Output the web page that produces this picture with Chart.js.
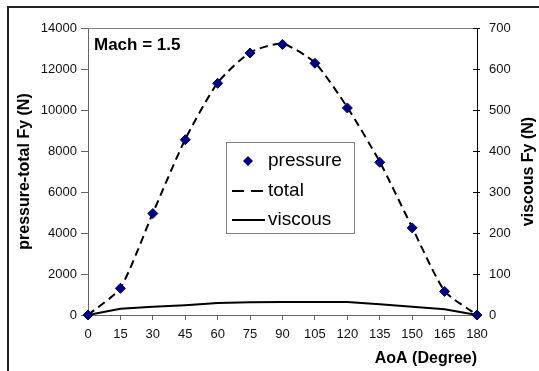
<!DOCTYPE html>
<html>
<head>
<meta charset="utf-8">
<script src="https://cdn.jsdelivr.net/npm/chart.js@4.4.0/dist/chart.umd.min.js"></script>
<style>
  html, body { margin: 0; padding: 0; background: #fff; }
  canvas { display: block; }
</style>
</head>
<body>
<canvas id="chart" width="539" height="371"></canvas>
<script>
const angles = [0, 15, 30, 45, 60, 75, 90, 105, 120, 135, 150, 165, 180];
const pressure = [0, 1300, 4950, 8550, 11300, 12780, 13200, 12280, 10100, 7450, 4250, 1150, 0];
const total = [0, 1315, 4970, 8575, 11330, 12810, 13230, 12310, 10130, 7475, 4270, 1165, 0];
const viscous = [0, 15, 20, 24, 29, 31, 32, 32, 32, 26, 20, 14, 0];
const leftTicks = [0, 2000, 4000, 6000, 8000, 10000, 12000, 14000];
const rightTicks = [0, 100, 200, 300, 400, 500, 600, 700];

const FONT = '"Liberation Sans", Arial, sans-serif';

// frame, legend box, Mach label, right axis title
const extras = {
    id: 'extras',
    afterDraw(chart) {
        const { ctx, chartArea: a, scales } = chart;
        const ds = chart.data.datasets;
        ctx.save();

        // outer chart border (only left/top visible)
        ctx.strokeStyle = '#222';
        ctx.lineWidth = 2;
        ctx.strokeRect(8, 7, 600, 600);

        // plot area top border
        ctx.strokeStyle = '#808080';
        ctx.lineWidth = 1;
        ctx.beginPath();
        ctx.moveTo(a.left, a.top + 0.5);
        ctx.lineTo(a.right, a.top + 0.5);
        ctx.stroke();

        // right axis ticks cross into the plot
        ctx.strokeStyle = '#000';
        ctx.beginPath();
        scales.y2.ticks.forEach(t => {
            const py = Math.round(scales.y2.getPixelForValue(t.value)) + 0.5;
            ctx.moveTo(a.right - 4, py);
            ctx.lineTo(a.right, py);
        });
        ctx.stroke();

        // Mach label
        ctx.fillStyle = '#000';
        ctx.font = 'bold 17px ' + FONT;
        ctx.textBaseline = 'alphabetic';
        ctx.textAlign = 'left';
        ctx.fillText('Mach = 1.5', 94, 50);

        // right axis title, reading upwards
        ctx.save();
        ctx.translate(529, (a.top + a.bottom) / 2);
        ctx.rotate(-Math.PI / 2);
        ctx.font = 'bold 16px ' + FONT;
        ctx.textAlign = 'center';
        ctx.textBaseline = 'middle';
        ctx.fillText('viscous Fy (N)', 0, 0);
        ctx.restore();

        // legend
        const bx = 226, by = 142, bw = 128, bh = 91;
        ctx.fillStyle = '#fff';
        ctx.fillRect(bx, by, bw, bh);
        ctx.strokeStyle = '#808080';
        ctx.lineWidth = 1;
        ctx.strokeRect(bx + 0.5, by + 0.5, bw, bh);

        const rows = [161, 191, 220];
        ctx.font = '19px ' + FONT;
        ctx.textBaseline = 'middle';
        ds.forEach((d, i) => {
            const y = rows[i];
            if (d.showLine === false) {
                ctx.fillStyle = d.pointBackgroundColor;
                ctx.beginPath();
                ctx.moveTo(248, y - 5);
                ctx.lineTo(253, y);
                ctx.lineTo(248, y + 5);
                ctx.lineTo(243, y);
                ctx.closePath();
                ctx.fill();
            } else {
                ctx.strokeStyle = d.borderColor;
                ctx.lineWidth = d.borderWidth;
                ctx.setLineDash(d.borderDash ? [12, 7] : []);
                ctx.beginPath();
                ctx.moveTo(232, y);
                ctx.lineTo(265, y);
                ctx.stroke();
                ctx.setLineDash([]);
            }
            ctx.fillStyle = '#000';
            ctx.fillText(d.label, 268, y);
        });
        ctx.restore();
    }
};

const plain = v => String(v);

new Chart(document.getElementById('chart'), {
    type: 'line',
    data: {
        labels: angles,
        datasets: [
            {
                label: 'pressure',
                data: pressure,
                yAxisID: 'y',
                showLine: false,
                pointStyle: 'rectRot',
                pointRadius: 5,
                pointBackgroundColor: '#000080',
                pointBorderColor: '#000080',
                pointBorderWidth: 1,
                clip: false
            },
            {
                label: 'total',
                data: total,
                yAxisID: 'y',
                borderColor: '#000',
                borderWidth: 2,
                borderDash: [8, 5],
                pointRadius: 0,
                tension: 0.2,
                fill: false
            },
            {
                label: 'viscous',
                data: viscous,
                yAxisID: 'y2',
                borderColor: '#000',
                borderWidth: 2,
                pointRadius: 0,
                tension: 0,
                fill: false
            }
        ]
    },
    options: {
        responsive: false,
        animation: false,
        devicePixelRatio: 1,
        layout: { padding: { left: 10, top: 28, right: 4, bottom: 4 } },
        plugins: { legend: { display: false }, tooltip: { enabled: false } },
        scales: {
            x: {
                type: 'category',
                offset: false,
                border: { color: '#666', width: 1 },
                grid: { drawOnChartArea: false, tickLength: 5, color: '#666', offset: false },
                ticks: { color: '#111', font: { family: FONT, size: 13 }, padding: 7, maxRotation: 0, autoSkip: false },
                title: {
                    display: true, text: 'AoA (Degree)', align: 'end', color: '#000',
                    font: { family: FONT, size: 16, weight: 'bold', lineHeight: 1 },
                    padding: { top: 0, bottom: 0 }
                },
                afterFit(s) { s.height = 52; }
            },
            y: {
                position: 'left',
                min: 0, max: 14000,
                afterBuildTicks(s) { s.ticks = leftTicks.map(v => ({ value: v })); },
                border: { color: '#666', width: 1 },
                grid: { drawOnChartArea: false, tickLength: 7, color: '#666' },
                ticks: { color: '#111', font: { family: FONT, size: 13 }, padding: 4, callback: plain },
                title: {
                    display: true, text: 'pressure-total Fy (N)', color: '#000',
                    font: { family: FONT, size: 16, weight: 'bold', lineHeight: 1 },
                    padding: { top: 7, bottom: 0 }
                },
                afterFit(s) { s.width = 78; }
            },
            y2: {
                position: 'right',
                min: 0, max: 700,
                afterBuildTicks(s) { s.ticks = rightTicks.map(v => ({ value: v })); },
                border: { color: '#000', width: 1 },
                grid: { drawOnChartArea: false, tickLength: 3, color: '#000' },
                ticks: { color: '#111', font: { family: FONT, size: 13 }, padding: 9, callback: plain },
                afterFit(s) { s.width = 58; }
            }
        }
    },
    plugins: [extras]
});
</script>
</body>
</html>
